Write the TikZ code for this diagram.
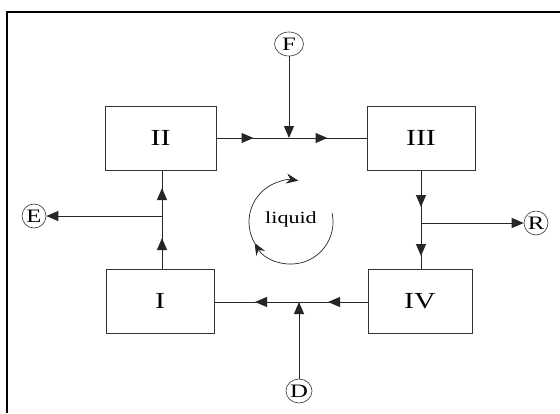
\documentclass[tikz,border=0pt]{standalone}
\usepackage{fontspec}
\setmainfont{Liberation Serif}
\usetikzlibrary{arrows.meta,decorations.markings,shapes.geometric}
\newcommand\hwide[1]{\scalebox{1.3}[1]{#1}}
\tikzset{
  tri/.tip={Triangle[length=12pt,width=10pt]},
  bar/.tip={Stealth[length=12pt,width=10pt,inset=4pt]},
  box/.style={draw=black!80,line width=1pt,minimum height=64pt,inner sep=0pt,
    font=\fontsize{23}{23}\selectfont},
  circ/.style={ellipse,draw=black!80,line width=0.6pt,inner sep=0pt,
    minimum width=24pt,minimum height=24pt,font=\fontsize{19}{19}\selectfont},
  conn/.style={draw=black!85,line width=1pt},
}
\begin{document}
\begin{tikzpicture}[x=1pt,y=-1pt]
\useasboundingbox (0,0) rectangle (560,413);
\fill[white] (0,0) rectangle (560,413);
% frame
\draw[line width=2.8pt] (7,413) -- (7,12) -- (560,12);
% boxes
\node[box,minimum width=111pt] (II)  at (160.5,138) {\hwide{II}};
\node[box,minimum width=108pt] (III) at (421,138) {\hwide{III}};
\node[box,minimum width=108pt] (I)   at (160,301) {\hwide{I}};
\node[box,minimum width=104pt] (IV)  at (420,301) {\hwide{IV}};
% circles
\node[circ,minimum width=29pt] (F) at (289,44) {\hwide{F}};
\node[circ] (E) at (34,216) {\hwide{E}};
\node[circ] (R) at (536,223) {\hwide{R}};
\node[circ,minimum width=26pt] (D) at (299,391) {\hwide{D}};
% junctions
\coordinate (jF) at (289,138);
\coordinate (jD) at (299,302);
\coordinate (jE) at (162,216);
\coordinate (jR) at (421,223);
\coordinate (Itop) at (162,269);
\coordinate (IIbot) at (162,170);
\coordinate (IIIbot) at (421,170);
\coordinate (IVtop) at (421,269);
\coordinate (IVw) at (368,302);
\coordinate (Ie) at (214,302);
% main loop
\draw[conn,postaction={decorate},decoration={markings,
  mark=at position 37pt with {\arrow{tri}},
  mark=at position 111pt with {\arrow{tri}}}] (II) -- (III);
\draw[conn,postaction={decorate},decoration={markings,
  mark=at position 37pt with {\arrow{tri}},
  mark=at position 86pt with {\arrow{tri}}}] (IIIbot) -- (IVtop);
\draw[conn,postaction={decorate},decoration={markings,
  mark=at position 40pt with {\arrow{tri}},
  mark=at position 113pt with {\arrow{tri}}}] (IVw) -- (Ie);
\draw[conn,postaction={decorate},decoration={markings,
  mark=at position 31pt with {\arrow{tri}},
  mark=at position 81pt with {\arrow{tri}}}] (Itop) -- (IIbot);
% feeds and outlets
\draw[conn,-tri] (F) -- (jF);
\draw[conn,-tri] (D) -- (jD);
\draw[conn,-tri] (jE) -- (E);
\draw[conn,-tri] (jR) -- (R);
% liquid circulation
\node[font=\fontsize{17}{17}\selectfont] (liq) at (291,219) {\hwide{liquid}};
\draw[black!85,line width=0.7pt,-bar] (291,222) ++(-12:42) arc[start angle=-12,end angle=150,radius=42];
\draw[black!85,line width=0.7pt,-bar] (291,222) ++(150:42) arc[start angle=150,end angle=280,radius=42];
\end{tikzpicture}
\end{document}
